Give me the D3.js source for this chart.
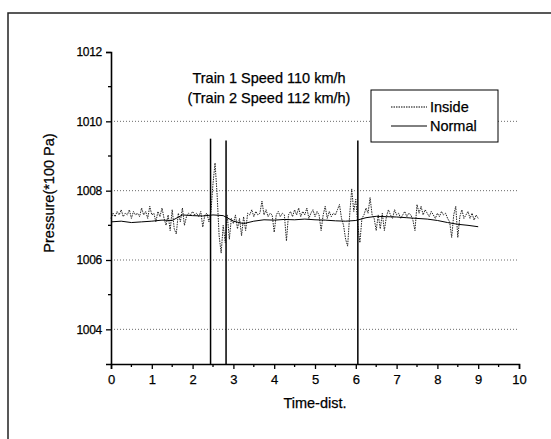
<!DOCTYPE html>
<html>
<head>
<meta charset="utf-8">
<script src="https://cdn.jsdelivr.net/npm/d3@7"></script>
<style>
  body { margin: 0; background: #fff; }
  text { font-family: Arial, "Liberation Sans", sans-serif; fill: #000; stroke: #000; stroke-width: 0.25px; }
</style>
</head>
<body>
<div id="chart"></div>
<script>
// Inside series, sampled every 0.05 from 0 to 9
var insideStart = 0, insideStep = 0.05;
var insideValues = [
  1007.2,1007.35,1007.25,1007.4,1007.3,1007.45,1007.25,1007.35,1007.3,1007.45,1007.2,1007.4,1007.3,1007.35,1007.25,1007.5,1007.3,1007.4,1007.2,1007.55,1007.3,
  1007.35,1007.1,1007.4,1007.25,1007.5,1007.2,1007.0,1007.3,1006.85,1007.45,1006.9,1006.75,1007.35,1007.1,1007.5,1007.0,1007.25,1007.35,1007.3,1007.4,
  1007.3,1007.35,1007.25,1007.4,1006.95,1007.3,1007.35,1007.1,1007.4,1008.2,1008.8,1007.9,1006.7,1006.2,1007.0,1006.5,1007.3,1006.6,1007.2,1007.05,
  1007.3,1006.9,1007.2,1006.7,1007.25,1006.85,1007.35,1007.3,1007.45,1007.25,1007.4,1007.3,1007.35,1007.7,1007.3,1007.45,1007.25,1007.35,1007.3,1006.8,
  1007.3,1007.4,1007.25,1007.35,1007.3,1006.55,1007.3,1007.4,1007.25,1007.45,1007.3,1007.5,1007.25,1007.4,1007.3,1007.5,1007.2,1007.35,1007.45,1007.25,
  1007.4,1007.3,1006.85,1007.3,1007.55,1007.2,1007.4,1007.25,1007.35,1007.3,1007.45,1007.6,1007.2,1007.0,1006.6,1006.4,1007.3,1008.05,1007.4,1007.75,
  1007.0,1006.5,1007.2,1007.3,1007.5,1007.35,1007.8,1007.3,1007.2,1006.85,1007.3,1006.9,1007.35,1006.85,1007.25,1007.45,1007.3,1007.2,1007.45,1007.3,
  1007.35,1007.2,1007.3,1007.4,1007.25,1007.35,1007.3,1007.15,1006.85,1007.6,1007.35,1007.55,1007.3,1007.45,1007.35,1007.25,1007.4,1007.3,1007.2,1007.35,
  1007.25,1007.4,1007.3,1007.35,1007.2,1007.1,1006.65,1007.3,1007.55,1006.65,1007.25,1007.45,1007.2,1007.3,1007.4,1007.2,1007.35,1007.15,1007.3,1007.2
];

// Normal series, sampled every 0.25 from 0 to 9
var normalStart = 0, normalStep = 0.25;
var normalValues = [
  1007.1,1007.12,1007.08,1007.1,1007.12,1007.15,1007.14,1007.3,1007.28,1007.27,1007.3,1007.28,1007.12,
  1007.05,1007.12,1007.16,1007.15,1007.17,1007.16,1007.18,1007.16,1007.15,1007.13,1007.12,1007.14,
  1007.22,1007.26,1007.25,1007.24,1007.22,1007.2,1007.18,1007.14,1007.08,1007.03,1007.0,1006.96
];

// vertical spikes of the Normal trace
var spikeX = [2.44, 2.82, 6.05];
var spikeTop = [1009.5, 1009.45, 1009.45];

var xTicks = [0, 1, 2, 3, 4, 5, 6, 7, 8, 9, 10];
var yTicks = [1004, 1006, 1008, 1010, 1012];
var gridValues = [1004, 1006, 1008, 1010];

var titleLines = ["Train 1 Speed 110 km/h", "(Train 2 Speed 112 km/h)"];
var legendNames = ["Inside", "Normal"];

var W = 551, H = 439;
var plot = { left: 111, right: 519, top: 52, bottom: 364 };

var svg = d3.select("#chart").append("svg")
  .attr("width", W)
  .attr("height", H);

// outer frame (only top and left edges visible)
svg.append("path")
  .attr("d", "M8,439V13H551")
  .attr("fill", "none")
  .attr("stroke", "#222")
  .attr("stroke-width", 1.5);

var x = d3.scaleLinear().domain([0, 10]).range([plot.left, plot.right]);
var y = d3.scaleLinear().domain([1003, 1012]).range([plot.bottom, plot.top]);

// grid lines
svg.append("g")
  .selectAll("line")
  .data(gridValues)
  .enter()
  .append("line")
  .attr("x1", plot.left)
  .attr("x2", plot.right)
  .attr("y1", d => y(d))
  .attr("y2", d => y(d))
  .attr("stroke", "#444")
  .attr("stroke-width", 0.8)
  .attr("stroke-dasharray", "1,2");

var insideData = insideValues.map((v, i) => [insideStart + i * insideStep, v]);
var normalData = normalValues.map((v, i) => [normalStart + i * normalStep, v]);

var line = d3.line().x(d => x(d[0])).y(d => y(d[1]));

svg.append("path")
  .datum(insideData)
  .attr("d", line)
  .attr("fill", "none")
  .attr("stroke", "#222")
  .attr("stroke-width", 1)
  .attr("stroke-dasharray", "1.5,1");

svg.append("path")
  .datum(normalData)
  .attr("d", line)
  .attr("fill", "none")
  .attr("stroke", "#000")
  .attr("stroke-width", 1);

svg.append("g")
  .selectAll("line")
  .data(spikeX)
  .enter()
  .append("line")
  .attr("x1", d => x(d))
  .attr("x2", d => x(d))
  .attr("y1", (d, i) => y(spikeTop[i]))
  .attr("y2", y(1003))
  .attr("stroke", "#000")
  .attr("stroke-width", 1.5);

// axes
var xAxis = svg.append("g")
  .attr("transform", `translate(0, ${plot.bottom})`)
  .call(d3.axisBottom(x).tickValues(xTicks).tickSize(5).tickFormat(d3.format("d")));
xAxis.append("g")
  .selectAll("line")
  .data(d3.range(0.5, 10, 1))
  .enter()
  .append("line")
  .attr("x1", d => x(d))
  .attr("x2", d => x(d))
  .attr("y1", 0)
  .attr("y2", 3)
  .attr("stroke", "#000")
  .attr("stroke-width", 1.3);

var yAxis = svg.append("g")
  .attr("transform", `translate(${plot.left}, 0)`)
  .call(d3.axisLeft(y).tickValues(yTicks).tickSize(5).tickFormat(d3.format("d")));
yAxis.append("g")
  .selectAll("line")
  .data([1005, 1007, 1009, 1011])
  .enter()
  .append("line")
  .attr("x1", 0)
  .attr("x2", -3)
  .attr("y1", d => y(d))
  .attr("y2", d => y(d))
  .attr("stroke", "#000")
  .attr("stroke-width", 1.3);

svg.selectAll(".domain").attr("stroke-width", 1.6).attr("stroke", "#000");
svg.selectAll(".tick line").attr("stroke-width", 1.3).attr("stroke", "#000");
xAxis.selectAll(".tick text")
  .attr("font-size", "13px")
  .attr("font-family", "Arial, 'Liberation Sans', sans-serif")
  .attr("dy", "0.9em");
yAxis.selectAll(".tick text")
  .attr("font-size", "12px")
  .attr("font-family", "Arial, 'Liberation Sans', sans-serif")
  .attr("letter-spacing", "-0.3px")
  .attr("x", -9);

// axis labels
svg.append("text")
  .attr("x", 315)
  .attr("y", 408)
  .attr("text-anchor", "middle")
  .attr("font-size", "14.5px")
  .text("Time-dist.");

svg.append("text")
  .attr("transform", "translate(54, 193) rotate(-90)")
  .attr("text-anchor", "middle")
  .attr("font-size", "14.5px")
  .text("Pressure(*100 Pa)");

// title
svg.append("g")
  .selectAll("text")
  .data(titleLines)
  .enter()
  .append("text")
  .attr("x", 269)
  .attr("y", (d, i) => 83 + i * 20)
  .attr("text-anchor", "middle")
  .attr("font-size", "14.5px")
  .text(d => d);

// legend
var legend = svg.append("g");
legend.append("rect")
  .attr("x", 371)
  .attr("y", 90)
  .attr("width", 127)
  .attr("height", 52)
  .attr("fill", "#fff")
  .attr("stroke", "#000")
  .attr("stroke-width", 1);

legendNames.forEach(function(name, i) {
  var ly = 107 + i * 19;
  legend.append("line")
    .attr("x1", 391)
    .attr("x2", 427)
    .attr("y1", ly)
    .attr("y2", ly)
    .attr("stroke", "#000")
    .attr("stroke-width", 1)
    .attr("stroke-dasharray", i === 0 ? "1.5,1" : null);
  legend.append("text")
    .attr("x", 430)
    .attr("y", ly + 5)
    .attr("font-size", "14.5px")
    .text(name);
});
</script>
</body>
</html>
